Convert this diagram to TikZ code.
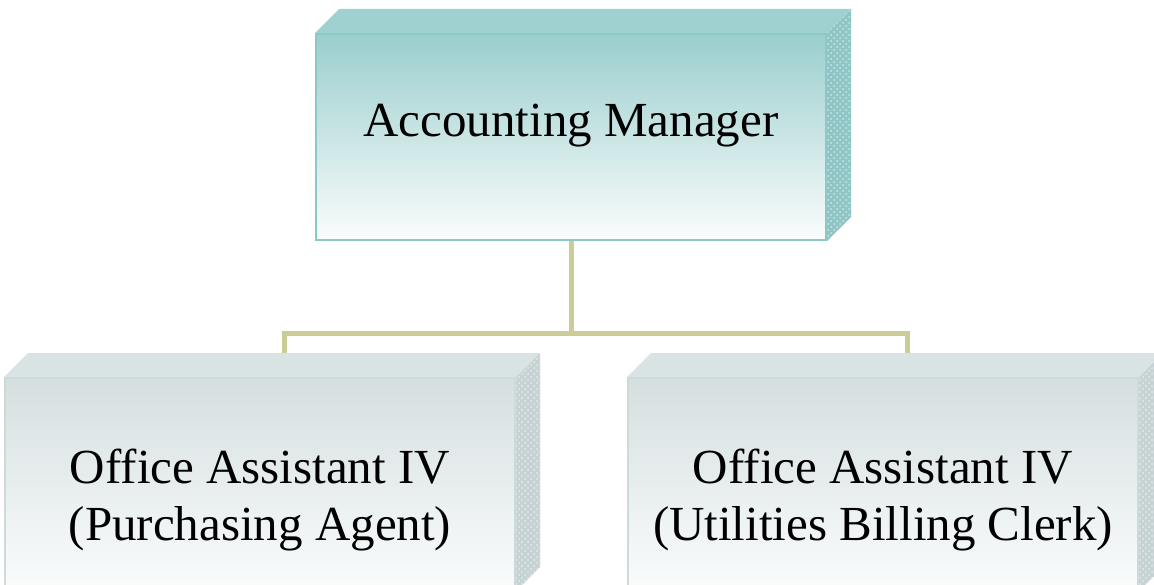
\documentclass[tikz,border=0pt]{standalone}
\usepackage{fontspec}
\setmainfont{Liberation Serif}
\usetikzlibrary{positioning,patterns}
\definecolor{mgrtop}{RGB}{155,206,206}
\definecolor{mgrlid}{RGB}{160,209,209}
\definecolor{mgrside}{RGB}{143,197,197}
\definecolor{mgredge}{RGB}{140,200,200}
\definecolor{stafftop}{RGB}{213,223,224}
\definecolor{stafflid}{RGB}{217,227,227}
\definecolor{staffside}{RGB}{198,210,211}
\definecolor{staffedge}{RGB}{205,217,218}
\definecolor{linkcol}{RGB}{204,204,153}
\definecolor{paper}{RGB}{250,252,252}

\begin{document}
\begin{tikzpicture}
[x=0.5pt,y=0.5pt,
every node/.style={rectangle,inner sep=0pt,line width=1pt,minimum width=255pt,minimum height=103pt,
  font=\fontsize{24.5pt}{28.5pt}\selectfont,align=center},
mgrbox/.style={draw=mgredge,top color=mgrtop,bottom color=paper,text height=0pt,text depth=0pt},
staffbox/.style={draw=staffedge,top color=stafftop,bottom color=paper,minimum height=106pt,text height=56pt,text depth=0pt},
link/.style={draw=linkcol,line width=2.5pt}]
\clip (0,0) rectangle (1154,584);
\node[mgrbox] (mgr) at (571,447) {Accounting Manager};
\node[staffbox] (pa) at (260,100) {Office Assistant IV\\(Purchasing Agent)};
\node[staffbox,right=55.5pt of pa] (ubc) {Office Assistant IV\\(Utilities Billing Clerk)};
% lid and side of each box
\foreach \n/\tint in {mgr/mgr,pa/staff,ubc/staff}{
\fill[\tint lid] (\n.north west) -- ++(24,24) -- ([shift={(24,24)}]\n.north east) -- (\n.north east) -- cycle;
\fill[\tint side,postaction={pattern=crosshatch dots,pattern color=white!55!\tint side}]
  (\n.north east) -- ++(24,24) -- ([shift={(24,24)}]\n.south east) -- (\n.south east) -- cycle;
}
\coordinate (bus) at ([shift={(0,-92)}]mgr.south);
\coordinate (pa top) at ([shift={(24,24)}]pa.north);
\coordinate (ubc top) at ([shift={(24,24)}]ubc.north);
\draw[link] (mgr.south) -- (bus) -| (pa top);
\draw[link] (bus) -| (ubc top);
\end{tikzpicture}
\end{document}
